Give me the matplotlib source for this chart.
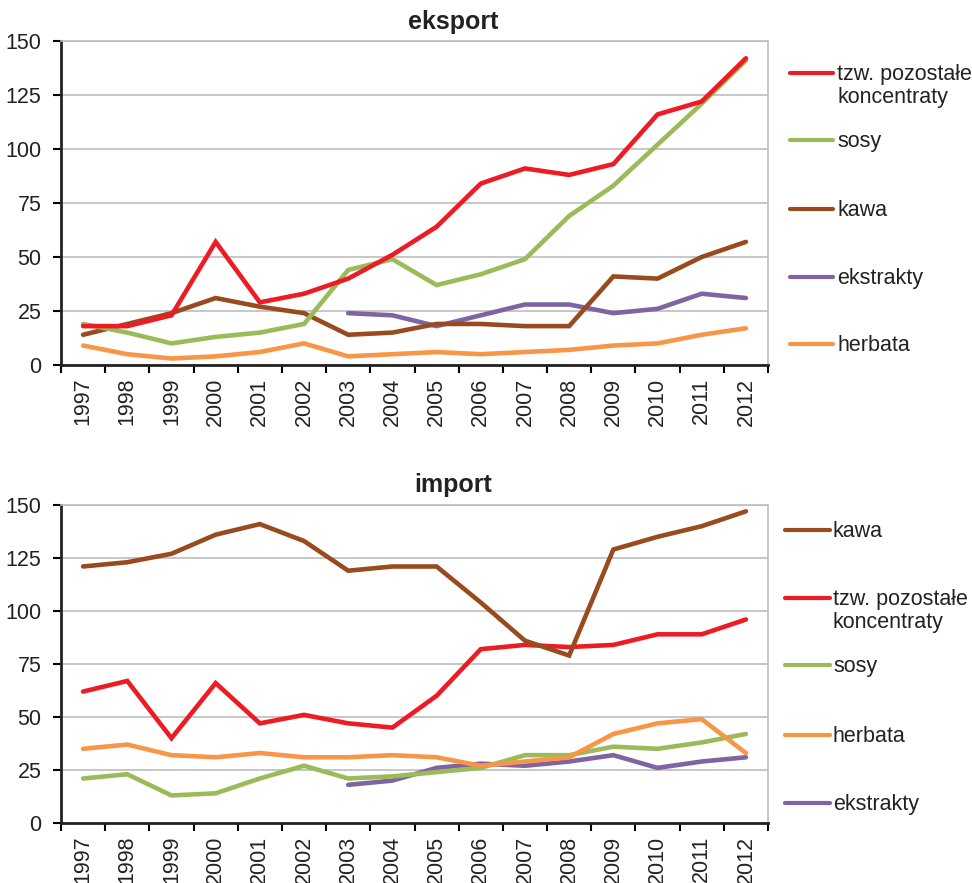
import matplotlib.pyplot as plt
from matplotlib.lines import Line2D
import numpy as np

plt.rcParams['font.family'] = ['Liberation Sans', 'DejaVu Sans']

years = [str(y) for y in range(1997, 2013)]
N = None

# eksport
exp_konc = [18, 18, 23, 57, 29, 33, 40, 51, 64, 84, 91, 88, 93, 116, 122, 142]
exp_sosy = [19, 15, 10, 13, 15, 19, 44, 49, 37, 42, 49, 69, 83, 102, 121, 141]
exp_kawa = [14, 19, 24, 31, 27, 24, 14, 15, 19, 19, 18, 18, 41, 40, 50, 57]
exp_ekstr = [N, N, N, N, N, N, 24, 23, 18, 23, 28, 28, 24, 26, 33, 31]
exp_herb = [9, 5, 3, 4, 6, 10, 4, 5, 6, 5, 6, 7, 9, 10, 14, 17]

# import
imp_kawa = [121, 123, 127, 136, 141, 133, 119, 121, 121, 104, 86, 79, 129, 135, 140, 147]
imp_konc = [62, 67, 40, 66, 47, 51, 47, 45, 60, 82, 84, 83, 84, 89, 89, 96]
imp_sosy = [21, 23, 13, 14, 21, 27, 21, 22, 24, 26, 32, 32, 36, 35, 38, 42]
imp_herb = [35, 37, 32, 31, 33, 31, 31, 32, 31, 27, 29, 31, 42, 47, 49, 33]
imp_ekstr = [N, N, N, N, N, N, 18, 20, 26, 28, 27, 29, 32, 26, 29, 31]

c_konc = '#ED1C24'
c_sosy = '#9BBB59'
c_kawa = '#984B1E'
c_ekstr = '#8064A2'
c_herb = '#F79646'

lab_konc = 'tzw. pozostałe\nkoncentraty'
fs = 15.5

W, H = 972, 883
fig = plt.figure(figsize=(W / 100, H / 100), dpi=100)


def px_axes(left, top, right, bottom):
    return fig.add_axes([left / W, 1 - bottom / H, (right - left) / W, (bottom - top) / H])


def style(ax):
    ax.set_xlim(-0.5, 15.5)
    ax.set_ylim(0, 150)
    ax.set_yticks(range(0, 151, 25))
    ax.yaxis.grid(True, color='#BDBDBD', lw=1.2)
    ax.set_axisbelow(True)
    ax.set_xticks(range(16))
    ax.set_xticklabels(years, rotation=90, fontsize=fs, color='#222222')
    ax.set_xticks(np.arange(-0.5, 16, 1), minor=True)
    ax.tick_params(axis='x', which='major', length=0, pad=9)
    ax.tick_params(axis='x', which='minor', length=6, width=1.5, direction='out')
    ax.tick_params(axis='y', length=6, width=1.5, labelsize=fs, labelcolor='#222222', pad=8)
    for s in ['left', 'bottom']:
        ax.spines[s].set_color('#222222')
        ax.spines[s].set_linewidth(2)
    for s in ['top', 'right']:
        ax.spines[s].set_color('#BDBDBD')
        ax.spines[s].set_linewidth(1.2)


def series(vals):
    return np.array([np.nan if v is None else v for v in vals], dtype=float)


def legend(entries, x0, x1, xt):
    for y, color, label in entries:
        fig.add_artist(Line2D([x0 / W, x1 / W], [1 - y / H, 1 - y / H], color=color,
                              lw=3, solid_capstyle='round'))
        fig.text(xt / W, 1 - (y - 9) / H, label, fontsize=fs, color='#222222',
                 va='top', ha='left', linespacing=1.15)


x = np.arange(16)
lw = 3.3

ax1 = px_axes(61, 41, 768, 365)
style(ax1)
for vals, c in [(exp_herb, c_herb), (exp_ekstr, c_ekstr), (exp_kawa, c_kawa),
                (exp_sosy, c_sosy), (exp_konc, c_konc)]:
    ax1.plot(x, series(vals), color=c, lw=lw, solid_capstyle='round', solid_joinstyle='miter')
fig.text(453 / W, 1 - 22 / H, 'eksport', fontsize=18, fontweight='bold',
         ha='center', va='center', color='#222222')
legend([(73, c_konc, lab_konc), (140, c_sosy, 'sosy'), (209, c_kawa, 'kawa'),
        (277, c_ekstr, 'ekstrakty'), (344, c_herb, 'herbata')], 790, 833, 837)

ax2 = px_axes(61, 505, 768, 823)
style(ax2)
for vals, c in [(imp_ekstr, c_ekstr), (imp_sosy, c_sosy), (imp_herb, c_herb),
                (imp_konc, c_konc), (imp_kawa, c_kawa)]:
    ax2.plot(x, series(vals), color=c, lw=lw, solid_capstyle='round', solid_joinstyle='miter')
fig.text(453 / W, 1 - 485 / H, 'import', fontsize=18, fontweight='bold',
         ha='center', va='center', color='#222222')
legend([(530, c_kawa, 'kawa'), (598, c_konc, lab_konc), (665, c_sosy, 'sosy'),
        (735, c_herb, 'herbata'), (803, c_ekstr, 'ekstrakty')], 785, 830, 833)

fig.savefig('out.png', dpi=100)
